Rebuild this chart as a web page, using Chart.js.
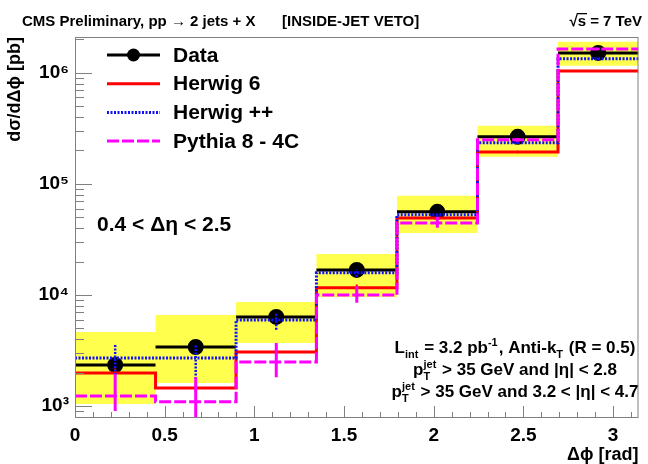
<!DOCTYPE html>
<html>
<head>
<meta charset="utf-8">
<script src="https://cdn.jsdelivr.net/npm/chart.js@4.4.1/dist/chart.umd.min.js"></script>
<style>
  body { margin: 0; background: #fff; }
  #wrap { width: 648px; height: 464px; }
</style>
</head>
<body>
<div id="wrap"><canvas id="myChart" width="648" height="464"></canvas></div>
<script>
// binning en delta phi (7 bins de pi/7)
const binEdges = [0, 0.449, 0.898, 1.346, 1.795, 2.244, 2.693, 3.1416];
const binCenters = [0.224, 0.673, 1.122, 1.571, 2.020, 2.468, 2.917];

// mesures CMS
const dataVals = [2340, 3400, 6340, 16800, 56000, 265000, 1510000];
const dataLow = [2200, 3250, 5700, 16200, 54500, 260000, 1490000];
const dataHigh = [2500, 3560, 6900, 17400, 57500, 270000, 1530000];
// bande systematique (jaune)
const systLow = [1040, 1610, 3700, 9600, 36200, 175000, 1160000];
const systHigh = [4640, 6600, 8650, 23400, 78000, 333000, 1900000];

// generateurs MC
const herwig6 = [1980, 1450, 3060, 11600, 49400, 194000, 1040000];
const herwig6Low = [1800, 1300, 2650, 10900, 47500, 189000, 1020000];
const herwig6High = [2180, 1620, 3550, 12400, 51300, 199000, 1060000];
const herwigpp = [2700, 2700, 5960, 15800, 52600, 234000, 1340000];
const herwigppLow = [1900, 1750, 4850, 14600, 50500, 229000, 1320000];
const herwigppHigh = [3540, 3600, 6900, 17000, 54700, 239000, 1360000];
const pythia8 = [1230, 1090, 2490, 10000, 44500, 249000, 1640000];
const pythia8Low = [900, 600, 1820, 8500, 40200, 240000, 1600000];
const pythia8High = [1950, 1820, 3700, 12000, 50400, 258000, 1680000];

// axes
const xTickValues = [0, 0.5, 1, 1.5, 2, 2.5, 3];
const yTickValues = [1e3, 1e4, 1e5, 1e6];
const legendLabels = ["Data", "Herwig 6", "Herwig ++", "Pythia 8 - 4C"];

const police = '"Liberation Sans", Arial, Helvetica, sans-serif';
const exposants = { "2": "²", "3": "³", "4": "⁴", "5": "⁵", "6": "⁶", "7": "⁷" };

// histogramme en escalier : un point par bord gauche + le dernier bord
function histPoints(vals) {
  let pts = vals.map((v, i) => ({ x: binEdges[i], y: v }));
  pts.push({ x: binEdges[vals.length], y: vals[vals.length - 1] });
  return pts;
}
// barres horizontales (largeur du bin) pour les donnees
function hBars(vals) {
  let pts = [];
  vals.forEach((v, i) => {
    pts.push({ x: binEdges[i], y: v }, { x: binEdges[i + 1], y: v }, { x: binEdges[i + 1], y: null });
  });
  return pts;
}
// barres d'erreur verticales
function vBars(lo, hi) {
  let pts = [];
  lo.forEach((l, i) => {
    pts.push({ x: binCenters[i], y: l }, { x: binCenters[i], y: hi[i] }, { x: binCenters[i], y: null });
  });
  return pts;
}

const base = { pointRadius: 0, fill: false, spanGaps: false, tension: 0 };

const data = {
  datasets: [
    { ...base, label: "syst haut", data: histPoints(systHigh), stepped: "before", borderWidth: 0, fill: "+1", backgroundColor: "#ffff4d", order: 20 },
    { ...base, label: "syst bas", data: histPoints(systLow), stepped: "before", borderWidth: 0, order: 21 },
    { ...base, label: "data x", data: hBars(dataVals), borderColor: "#000", borderWidth: 3, order: 9 },
    { ...base, label: "data y", data: vBars(dataLow, dataHigh), borderColor: "#000", borderWidth: 2, order: 8 },
    { ...base, label: legendLabels[0], data: binCenters.map((c, i) => ({ x: c, y: dataVals[i] })), showLine: false,
      pointRadius: 6.5, pointBackgroundColor: "#000", pointBorderColor: "#000", borderColor: "#000", borderWidth: 3, order: 7 },
    { ...base, label: legendLabels[1], data: histPoints(herwig6), stepped: "before", borderColor: "#ff0000", borderWidth: 3, order: 6 },
    { ...base, label: "h6 err", data: vBars(herwig6Low, herwig6High), borderColor: "#ff0000", borderWidth: 2, order: 5 },
    { ...base, label: legendLabels[2], data: histPoints(herwigpp), stepped: "before", borderColor: "#1010ff", borderWidth: 3, borderDash: [2, 1.5], order: 4 },
    { ...base, label: "hpp err", data: vBars(herwigppLow, herwigppHigh), borderColor: "#1010ff", borderWidth: 2.5, borderDash: [2, 1.5], order: 3 },
    { ...base, label: legendLabels[3], data: histPoints(pythia8), stepped: "before", borderColor: "#ff00ff", borderWidth: 3, borderDash: [12, 3], order: 2 },
    { ...base, label: "py err", data: vBars(pythia8Low, pythia8High), borderColor: "#ff00ff", borderWidth: 3, order: 1 },
  ],
};
const legendIndex = [4, 5, 7, 9];

// ticks a l'interieur du cadre, style ROOT
const cadreRoot = {
  id: "cadreRoot",
  afterDatasetsDraw(chart) {
    const { ctx, chartArea: a, scales } = chart;
    const x = scales.x, y = scales.y;
    ctx.save();
    ctx.strokeStyle = "#808080";
    ctx.lineWidth = 1;
    ctx.strokeRect(a.left + 0.5, a.top + 0.5, a.right - a.left - 1, a.bottom - a.top - 1);
    ctx.beginPath();
    for (let i = 0; i <= 31; i++) {
      const px = Math.round(x.getPixelForValue(i / 10)) + 0.5;
      const len = i % 5 === 0 ? 12 : 6;
      ctx.moveTo(px, a.bottom);
      ctx.lineTo(px, a.bottom - len);
    }
    for (let e = 2; e <= 6; e++) {
      for (let m = 1; m <= 9; m++) {
        const v = m * Math.pow(10, e);
        if (v < y.min || v > y.max) continue;
        const py = Math.round(y.getPixelForValue(v)) + 0.5;
        const len = m === 1 ? 17 : 9;
        ctx.moveTo(a.left, py);
        ctx.lineTo(a.left + len, py);
      }
    }
    ctx.stroke();
    ctx.restore();
  },
};

// texte avec indices / exposants
function drawRich(ctx, parts, x, y, size, align) {
  const big = `bold ${size}px ${police}`;
  const small = `bold ${Math.round(size * 0.62)}px ${police}`;
  let total = 0;
  const w = parts.map((p) => {
    if (typeof p === "string") { ctx.font = big; return ctx.measureText(p).width; }
    ctx.font = small;
    return Math.max(ctx.measureText(p.sub || "").width, ctx.measureText(p.sup || "").width) + 1;
  });
  w.forEach((v) => (total += v));
  let cx = align === "center" ? x - total / 2 : align === "right" ? x - total : x;
  ctx.textAlign = "left";
  ctx.textBaseline = "alphabetic";
  parts.forEach((p, i) => {
    if (typeof p === "string") {
      ctx.font = big;
      ctx.fillText(p, cx, y);
    } else {
      ctx.font = small;
      if (p.sup) ctx.fillText(p.sup, cx, y - size * 0.42);
      if (p.sub) ctx.fillText(p.sub, cx, y + size * 0.3);
    }
    cx += w[i];
  });
}

const textesRoot = {
  id: "textesRoot",
  afterDraw(chart) {
    const ctx = chart.ctx;
    ctx.save();
    ctx.fillStyle = "#000";
    // en-tete
    ctx.font = `bold 15px ${police}`;
    ctx.textAlign = "left";
    ctx.fillText("CMS Preliminary, pp → 2 jets + X", 22, 26);
    ctx.fillText("[INSIDE-JET VETO]", 282, 26);
    ctx.textAlign = "right";
    ctx.fillText("√s = 7 TeV", 642, 26);
    const wRest = ctx.measureText(" = 7 TeV").width;
    const wS = ctx.measureText("s").width;
    ctx.fillRect(642 - wRest - wS - 1, 13, wS + 2, 1.3);

    // legende
    ctx.textAlign = "left";
    ctx.textBaseline = "middle";
    legendIndex.forEach((idx, i) => {
      const ds = chart.data.datasets[idx];
      const ly = 55 + i * 28.7;
      ctx.save();
      ctx.strokeStyle = ds.borderColor;
      ctx.lineWidth = ds.borderWidth;
      ctx.setLineDash(ds.borderDash || []);
      ctx.beginPath();
      ctx.moveTo(107, ly);
      ctx.lineTo(160, ly);
      ctx.stroke();
      if (ds.pointRadius > 0) {
        ctx.fillStyle = ds.pointBackgroundColor;
        ctx.beginPath();
        ctx.arc(133.5, ly, ds.pointRadius, 0, Math.PI * 2);
        ctx.fill();
      }
      ctx.restore();
      ctx.font = `bold 21px ${police}`;
      ctx.fillText(ds.label, 173, ly + 1);
    });

    ctx.textBaseline = "alphabetic";
    ctx.font = `bold 21px ${police}`;
    ctx.fillText("0.4 < Δη < 2.5", 97, 231);

    drawRich(ctx, ["L", { sub: "int" }, " = 3.2 pb", { sup: "-1" }, ", Anti-k", { sub: "T" }, " (R = 0.5)"], 515, 353, 17, "center");
    drawRich(ctx, ["p", { sup: "jet", sub: "T" }, " > 35 GeV and |η| < 2.8"], 515, 375, 17, "center");
    drawRich(ctx, ["p", { sup: "jet", sub: "T" }, " > 35 GeV and 3.2 < |η| < 4.7"], 515, 397, 17, "center");
    ctx.restore();
  },
};

const config = {
  type: "line",
  data: data,
  options: {
    responsive: false,
    animation: false,
    events: [],
    layout: { padding: { top: 37, right: 2, left: 0, bottom: 0 } },
    plugins: { legend: { display: false }, tooltip: { enabled: false } },
    scales: {
      x: {
        type: "linear",
        min: 0,
        max: 3.1416,
        afterBuildTicks: (s) => { s.ticks = xTickValues.map((v) => ({ value: v })); },
        afterFit: (s) => { s.height = 46; },
        grid: { display: false, drawTicks: false },
        border: { display: false },
        ticks: { callback: (v) => String(v), color: "#000", font: { family: police, size: 19, weight: "bold" }, padding: 6, maxRotation: 0, autoSkip: false },
        title: { display: true, text: "Δϕ [rad]", align: "end", color: "#000", font: { family: police, size: 18, weight: "bold" }, padding: { top: 0, bottom: -2 } },
      },
      y: {
        type: "logarithmic",
        min: 780,
        max: 2100000,
        afterBuildTicks: (s) => { s.ticks = yTickValues.map((v) => ({ value: v })); },
        afterFit: (s) => { s.width = 75; },
        grid: { display: false, drawTicks: false },
        border: { display: false },
        ticks: {
          callback: (v) => "10" + exposants[String(Math.round(Math.log10(v)))],
          color: "#000", font: { family: police, size: 19, weight: "bold" }, padding: 6, autoSkip: false,
        },
        title: { display: true, text: "dσ/dΔϕ [pb]", align: "end", color: "#000", font: { family: police, size: 18, weight: "bold" }, padding: { top: 4, bottom: 0 } },
      },
    },
  },
  plugins: [cadreRoot, textesRoot],
};

let context = document.getElementById("myChart").getContext("2d");
let chart = new Chart(context, config);
</script>
</body>
</html>
